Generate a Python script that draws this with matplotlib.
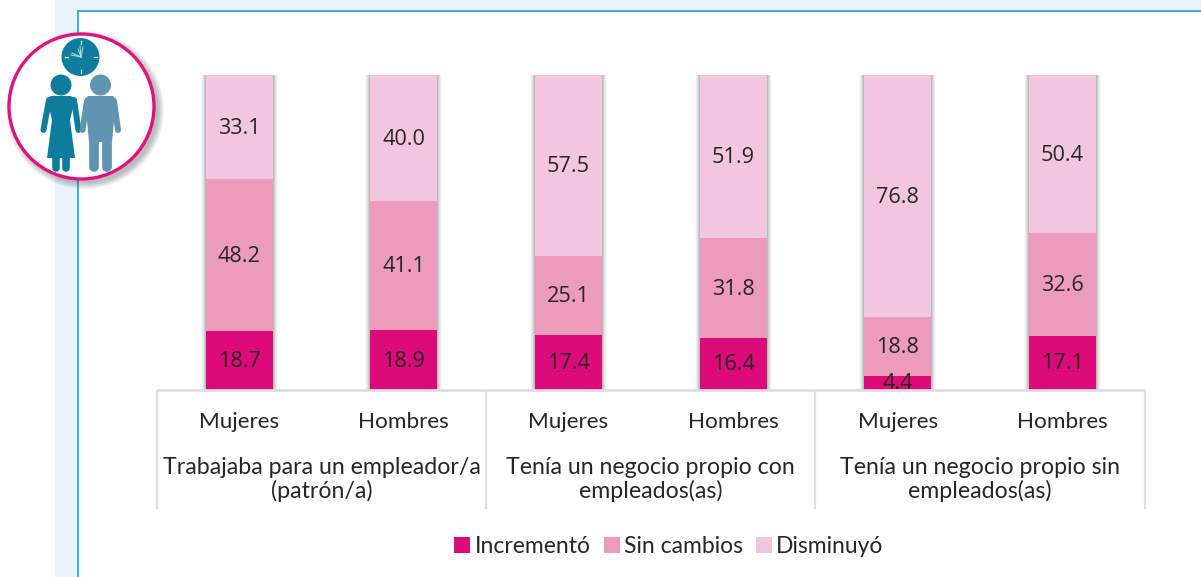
import numpy as np
import matplotlib
matplotlib.use('Agg')
import matplotlib.pyplot as plt
from matplotlib.patches import Circle, Rectangle, Polygon

W, H = 1201, 577

# Data
genders = ['Mujeres', 'Hombres', 'Mujeres', 'Hombres', 'Mujeres', 'Hombres']
groups = ['Trabajaba para un empleador/a\n(patrón/a)',
          'Tenía un negocio propio con\nempleados(as)',
          'Tenía un negocio propio sin\nempleados(as)']
incremento = [18.7, 18.9, 17.4, 16.4, 4.4, 17.1]
sin_cambios = [48.2, 41.1, 25.1, 31.8, 18.8, 32.6]
disminuyo = [33.1, 40.0, 57.5, 51.9, 76.8, 50.4]
series_names = ['Incrementó', 'Sin cambios', 'Disminuyó']

PINK = '#DD0A7A'
MID = '#EC9BBB'
LIGHT = '#F2C6DC'
AXIS_GRAY = '#DEDEDE'
TEXT = '#262626'
TEAL = '#0E7C9C'
STEEL = '#5F95B1'

plt.rcParams['font.family'] = ['Lato', 'DejaVu Sans']

fig = plt.figure(figsize=(W / 100, H / 100), dpi=100)
fig.patch.set_facecolor('white')

# Page decoration in pixel coordinates
bg = fig.add_axes([0, 0, 1, 1], zorder=0)
bg.set_xlim(0, W)
bg.set_ylim(H, 0)
bg.axis('off')
bg.add_patch(Rectangle((55, 0), W - 55, H, fc='#E9F3FB', ec='none'))
bg.add_patch(Rectangle((78, 11), W, H, fc='white', ec='#2BAAE2', lw=1.3))

# Chart axes: left/right are the outer group separators
left, right, base, top = 157, 1144.5, 389.5, 75
ax = fig.add_axes([left / W, 1 - base / H, (right - left) / W, (base - top) / H], zorder=1)
ax.patch.set_alpha(0)
ax.set_xlim(-0.5, 5.5)
ax.set_ylim(0, 100)
ax.axis('off')

x = np.arange(6)
inc = np.array(incremento)
sin = np.array(sin_cambios)
dis = np.array(disminuyo)
totals = inc + sin + dis
bar_w = 67 / 164.5

# soft side shadow
for grow, a in [(10, 0.04), (8, 0.07), (6, 0.10), (4, 0.14), (2, 0.18)]:
    ax.bar(x, totals + grow * 0.03, width=bar_w + grow / 164.5, color='#666666', alpha=a, lw=0)

b1 = ax.bar(x, inc, width=bar_w, color=PINK, label=series_names[0])
b2 = ax.bar(x, sin, width=bar_w, bottom=inc, color=MID, label=series_names[1])
b3 = ax.bar(x, dis, width=bar_w, bottom=inc + sin, color=LIGHT, label=series_names[2])

for vals, bottoms in [(inc, 0 * inc), (sin, inc), (dis, inc + sin)]:
    for xi, v, bt in zip(x, vals, bottoms):
        ax.text(xi, bt + v / 2 - 0.4, f'{v:.1f}', ha='center', va='center', fontsize=15.6,
                color=TEXT, family=['Open Sans', 'DejaVu Sans'])

# Multi-level category axis
trans = ax.get_xaxis_transform()
ax.plot([-0.5, 5.5], [0, 0], color=AXIS_GRAY, lw=2, clip_on=False, solid_capstyle='butt')
drop = (509 - base) / (base - top)
for sep in [-0.5, 1.5, 3.5, 5.5]:
    ax.plot([sep, sep], [0, -drop], transform=trans, color=AXIS_GRAY, lw=1.6, clip_on=False,
            solid_capstyle='butt')

for xi, g in zip(x, genders):
    ax.text(xi, -(421.5 - base) / (base - top), g, transform=trans, ha='center', va='center',
            fontsize=16.2, color=TEXT)
for xi, g in zip([0.5, 2.5, 4.5], groups):
    ax.text(xi, -(479.5 - base) / (base - top), g, transform=trans, ha='center', va='center',
            fontsize=16.7, color=TEXT, linespacing=1.13)

handles = [b1, b2, b3]
fig.legend(handles, series_names, loc='center', bbox_to_anchor=(669 / W, 1 - 546.5 / H), ncol=3,
           frameon=False, fontsize=16.5, handlelength=0.7, handleheight=0.7, handletextpad=0.2,
           columnspacing=0.55, labelcolor=TEXT)

# Badge with the two figures and the clock
ic = fig.add_axes([0, 0, 1, 1], zorder=2)
ic.set_xlim(0, W)
ic.set_ylim(H, 0)
ic.axis('off')
for r in [79, 78, 77, 76, 75, 74, 73]:
    ic.add_patch(Circle((85, 110), r, fc='#444444', ec='none', alpha=0.06))
ic.add_patch(Circle((81.5, 106.5), 72.5, fc='white', ec='#E0127F', lw=2.4))

# clock
ic.add_patch(Circle((80.5, 57), 19, fc=TEAL, ec='none'))
for dx, dy in [(0, -1), (0, 1), (-1, 0), (1, 0)]:
    ic.plot([80.5 + 13 * dx, 80.5 + 16 * dx], [57 + 13 * dy, 57 + 16 * dy], color='white', lw=0.9)
for ex, ey in [(83, 47), (80, 46), (78, 49), (72, 53), (71, 55)]:
    ic.plot([81, ex], [57, ey], color='#BFE0EA', lw=0.7)

# woman
ic.add_patch(Circle((61, 85), 10.5, fc=TEAL, ec='none'))
ic.add_patch(Polygon([(51, 96), (71, 96), (75, 99), (70, 120), (75, 158), (47, 158), (52, 120), (47, 99)],
                     fc=TEAL, ec='none'))
ic.plot([49, 43.5], [100, 130], color=TEAL, lw=4.3, solid_capstyle='round')
ic.plot([74, 78.5], [100, 130], color=TEAL, lw=4.3, solid_capstyle='round')
ic.plot([56, 56], [156, 168], color=TEAL, lw=5.5, solid_capstyle='round')
ic.plot([66, 66], [156, 168], color=TEAL, lw=5.5, solid_capstyle='round')

# man
ic.add_patch(Circle((100.5, 85), 10.5, fc=STEEL, ec='none'))
ic.add_patch(Polygon([(88, 96), (113, 96), (116, 99), (112, 142), (89, 142), (85, 99)], fc=STEEL, ec='none'))
ic.plot([87, 82.5], [101, 130], color=STEEL, lw=4.3, solid_capstyle='round')
ic.plot([114, 118], [101, 130], color=STEEL, lw=4.3, solid_capstyle='round')
ic.plot([94, 94], [138, 167], color=STEEL, lw=7, solid_capstyle='round')
ic.plot([106.5, 106.5], [138, 167], color=STEEL, lw=7, solid_capstyle='round')

plt.savefig('out.png', dpi=100)
